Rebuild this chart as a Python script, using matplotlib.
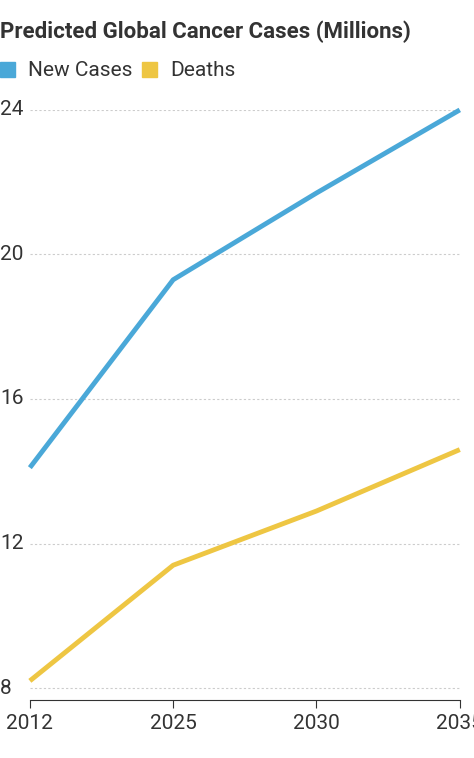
import matplotlib
matplotlib.use("Agg")
import matplotlib.pyplot as plt
from matplotlib.patches import Rectangle
from matplotlib.transforms import blended_transform_factory

years = ["2012", "2025", "2030", "2035"]
new_cases = [14.1, 19.3, 21.7, 24.0]
deaths = [8.2, 11.4, 12.9, 14.6]
y_ticks = [8, 12, 16, 20, 24]

blue = "#4aa8d8"
yellow = "#eec643"

plt.rcParams["font.family"] = ["Liberation Sans Narrow", "Roboto", "DejaVu Sans"]

fig = plt.figure(figsize=(4.74, 7.58), dpi=100)
ax = fig.add_axes([0.063, 0.0765, 0.907, 0.7785])

x = range(len(years))
ax.plot(x, new_cases, color=blue, lw=3.5, clip_on=False, solid_capstyle="butt")
ax.plot(x, deaths, color=yellow, lw=3.5, clip_on=False, solid_capstyle="butt")

ax.set_xlim(0, len(years) - 1)
ax.set_ylim(7.67, 24)
ax.set_xticks(list(x))
ax.set_xticklabels(years, fontsize=15, color="#333333")
ax.set_yticks(y_ticks)
ax.set_yticklabels([])
ax.tick_params(axis="y", length=0)
ax.tick_params(axis="x", length=6, color="#333333", pad=4)
trans = blended_transform_factory(fig.transFigure, ax.transData)
for v in y_ticks:
    fig.text(0.0, v, str(v), transform=trans, fontsize=15, color="#333333",
             ha="left", va="center")
ax.grid(axis="y", color="#cccccc", linestyle=(0, (2, 2)), lw=0.8)
for s in ["top", "right", "left"]:
    ax.spines[s].set_visible(False)
ax.spines["bottom"].set_color("#333333")

fig.text(0.0, 0.958, "Predicted Global Cancer Cases (Millions)",
         fontsize=16, fontweight="bold", color="#333333", va="center")
for xl, col, label in [(0.0, blue, "New Cases"), (0.30, yellow, "Deaths")]:
    fig.patches.append(Rectangle((xl, 0.898), 0.032, 0.02, color=col,
                                 transform=fig.transFigure))
    fig.text(xl + 0.06, 0.907, label, fontsize=15, color="#333333", va="center")

fig.savefig("out.png", dpi=100)
